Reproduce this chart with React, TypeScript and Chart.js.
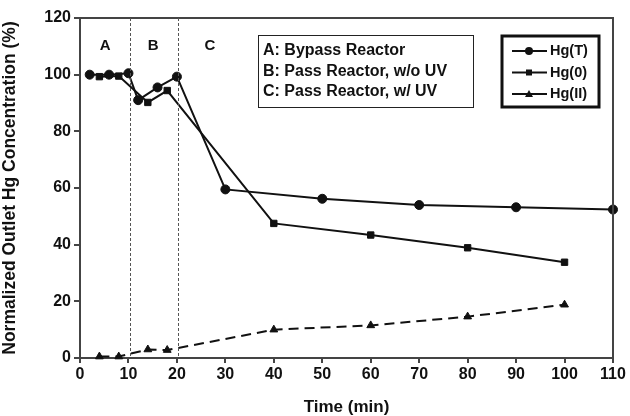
import React, { useEffect, useRef } from "react";
import { Chart, registerables } from "chart.js";

Chart.register(...registerables);

const timeT = [2, 6, 10, 12, 16, 20, 30, 50, 70, 90, 110];
const hgT = [100, 100, 100.5, 91, 95.5, 99.3, 59.5, 56.2, 54, 53.2, 52.4];
const time0 = [4, 8, 14, 18, 40, 60, 80, 100];
const hg0 = [99.3, 99.5, 90.2, 94.4, 47.5, 43.4, 38.9, 33.8];
const timeII = [4, 8, 14, 18, 40, 60, 80, 100];
const hgII = [0.5, 0.5, 3, 2.8, 10, 11.5, 14.6, 18.8];

const regionBounds = [10.4, 20.3];
const regionLabels = ["A", "B", "C"];
const regionLabelX = [5.2, 15.1, 26.8];
const regionNotes = ["A: Bypass Reactor", "B: Pass Reactor, w/o UV", "C: Pass Reactor, w/ UV"];
const seriesNames = ["Hg(T)", "Hg(0)", "Hg(II)"];
const xTicks = [0, 10, 20, 30, 40, 50, 60, 70, 80, 90, 100, 110];

const FONT = "'Liberation Sans', Arial, sans-serif";

function marker(ctx: CanvasRenderingContext2D, kind: number, cx: number, cy: number) {
  ctx.beginPath();
  if (kind === 0) {
    ctx.arc(cx, cy, 4, 0, Math.PI * 2);
  } else if (kind === 1) {
    ctx.rect(cx - 3, cy - 3, 6, 6);
  } else {
    ctx.moveTo(cx, cy - 4);
    ctx.lineTo(cx + 4, cy + 3);
    ctx.lineTo(cx - 4, cy + 3);
    ctx.closePath();
  }
  ctx.fill();
}

const overlay = {
  id: "overlay",
  afterDatasetsDraw(chart: any) {
    const { ctx, chartArea, scales } = chart;
    const x = scales.x;
    const y = scales.y;
    ctx.save();
    ctx.strokeStyle = "#444";
    ctx.lineWidth = 2;
    ctx.beginPath();
    ctx.moveTo(chartArea.left, chartArea.top);
    ctx.lineTo(chartArea.right, chartArea.top);
    ctx.lineTo(chartArea.right, chartArea.bottom);
    ctx.stroke();
    ctx.strokeStyle = "#555";
    ctx.lineWidth = 1;
    ctx.setLineDash([3, 2]);
    regionBounds.forEach((b) => {
      const px = Math.round(x.getPixelForValue(b)) + 0.5;
      ctx.beginPath();
      ctx.moveTo(px, chartArea.top);
      ctx.lineTo(px, chartArea.bottom);
      ctx.stroke();
    });
    ctx.setLineDash([]);
    ctx.fillStyle = "#111";
    ctx.font = `bold 15px ${FONT}`;
    ctx.textAlign = "center";
    ctx.textBaseline = "middle";
    regionLabels.forEach((l, i) => {
      ctx.fillText(l, x.getPixelForValue(regionLabelX[i]), y.getPixelForValue(110));
    });
    const bx = 258, by = 35, bw = 215, bh = 72;
    ctx.fillStyle = "#fff";
    ctx.fillRect(bx, by, bw, bh);
    ctx.strokeStyle = "#222";
    ctx.lineWidth = 1;
    ctx.strokeRect(bx + 0.5, by + 0.5, bw, bh);
    ctx.fillStyle = "#111";
    ctx.font = `bold 16px ${FONT}`;
    ctx.textAlign = "left";
    regionNotes.forEach((t, i) => {
      ctx.fillText(t, bx + 5, 51 + i * 20.5);
    });
    const lx = 502, ly = 36, lw = 97, lh = 71;
    ctx.fillStyle = "#fff";
    ctx.fillRect(lx, ly, lw, lh);
    ctx.strokeStyle = "#111";
    ctx.lineWidth = 3;
    ctx.strokeRect(lx, ly, lw, lh);
    seriesNames.forEach((name, i) => {
      const yy = 51 + i * 21.5;
      ctx.strokeStyle = "#111";
      ctx.lineWidth = 2;
      ctx.beginPath();
      ctx.moveTo(512, yy);
      ctx.lineTo(547, yy);
      ctx.stroke();
      ctx.fillStyle = "#111";
      marker(ctx, i, 529, yy);
      ctx.font = `bold 14.5px ${FONT}`;
      ctx.fillText(name, 550, yy);
    });
    ctx.restore();
  },
};

export default function App() {
  const ref = useRef<HTMLCanvasElement | null>(null);
  useEffect(() => {
    if (!ref.current) return;
    const mk = (xs: number[], ys: number[]) => xs.map((v, i) => ({ x: v, y: ys[i] }));
    const chart = new Chart(ref.current, {
      type: "scatter",
      data: {
        datasets: [
          {
            label: seriesNames[0],
            data: mk(timeT, hgT),
            showLine: true,
            borderColor: "#111",
            backgroundColor: "#111",
            borderWidth: 2,
            pointStyle: "circle",
            pointRadius: 4.5,
            pointBorderWidth: 1,
            clip: false as any,
          },
          {
            label: seriesNames[1],
            data: mk(time0, hg0),
            showLine: true,
            borderColor: "#111",
            backgroundColor: "#111",
            borderWidth: 2,
            pointStyle: "rect",
            pointRadius: 4.5,
            pointBorderWidth: 1,
            clip: false as any,
          },
          {
            label: seriesNames[2],
            data: mk(timeII, hgII),
            showLine: true,
            borderColor: "#111",
            backgroundColor: "#111",
            borderWidth: 2,
            borderDash: [10, 6],
            pointStyle: "triangle",
            pointRadius: 4.5,
            pointBorderWidth: 1,
            clip: false as any,
          },
        ],
      },
      options: {
        animation: false,
        responsive: true,
        maintainAspectRatio: false,
        layout: { padding: { left: 0, top: 18, right: 17, bottom: 0 } },
        plugins: { legend: { display: false }, tooltip: { enabled: false } },
        scales: {
          x: {
            type: "linear",
            min: 0,
            max: 110,
            afterBuildTicks: (s: any) => {
              s.ticks = xTicks.map((v) => ({ value: v }));
            },
            afterFit: (s: any) => {
              s.height = 58;
            },
            grid: { display: true, drawOnChartArea: false, tickLength: 5, color: "#444", lineWidth: 2 },
            border: { display: true, color: "#444", width: 2 },
            ticks: { color: "#111", font: { family: FONT, size: 16, weight: "bold" }, padding: 2, maxRotation: 0 },
            title: { display: true, text: "Time (min)", color: "#111", font: { family: FONT, size: 17, weight: "bold" }, padding: { top: 7, bottom: -2 } },
          },
          y: {
            min: 0,
            max: 120,
            ticks: { stepSize: 20, color: "#111", font: { family: FONT, size: 16, weight: "bold" }, padding: 3 },
            afterFit: (s: any) => {
              s.width = 80;
            },
            grid: { display: true, drawOnChartArea: false, tickLength: 6, color: "#444", lineWidth: 2 },
            border: { display: true, color: "#444", width: 2 },
            title: { display: true, text: "Normalized Outlet Hg Concentration (%)", color: "#111", font: { family: FONT, size: 17.5, weight: "bold" }, padding: { top: 0, bottom: 0 } },
          },
        },
      },
      plugins: [overlay],
    } as any);
    return () => chart.destroy();
  }, []);
  return (
    <div style={{ position: "fixed", left: 0, top: 0, width: 630, height: 416, background: "#fff" }}>
      <canvas ref={ref} />
    </div>
  );
}
